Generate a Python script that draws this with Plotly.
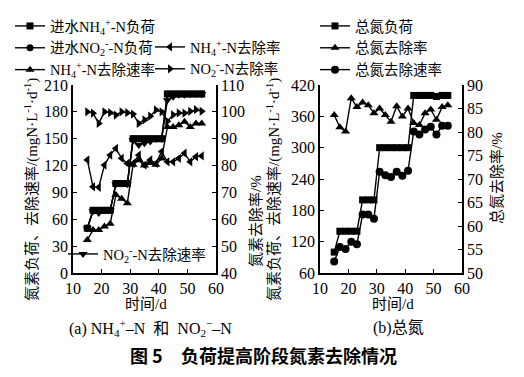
import plotly.graph_objects as go

W, H = 524, 377

# ---------------- data ----------------
days = [15, 17, 19, 21, 23, 25, 27, 29, 31, 33, 35, 37, 39, 41, 43, 45, 47, 49, 51, 53, 55]

# (a) NH4+-N and NO2--N
nh4_load = [50, 70, 70, 70, 70, 100, 100, 100, 150, 150, 150, 150, 150, 150, 200, 200, 200, 200, 200, 200, 200]
no2_load = [50, 70, 70, 70, 70, 100, 100, 100, 150, 150, 150, 150, 150, 150, 200, 200, 200, 200, 200, 200, 200]
nh4_pct = [82.1, 72.1, 71.9, 80.2, 83.9, 86.4, 82.7, 80.8, 80.8, 83.9, 80.2, 82.1, 80.8, 85.2, 81.4, 81.4, 82.7, 84.6, 81.4, 83.3, 83.6]
nh4_rate = [37, 48, 48, 52, 55, 87, 83, 78, 121, 126, 120, 123, 121, 128, 163, 163, 165, 169, 163, 167, 167]
no2_pct = [100.0, 99.5, 95.7, 100.0, 99.7, 98.8, 100.0, 99.7, 99.2, 95.7, 97.0, 98.4, 100.7, 100.0, 96.5, 98.9, 99.6, 99.5, 100.2, 100.8, 100.2]
no2_rate = [50, 69, 67, 70, 70, 99, 100, 99, 148, 143, 145, 147, 150, 150, 193, 197, 199, 199, 200, 200, 200]

# (b) total nitrogen
tn_load = [100, 140, 140, 140, 140, 200, 200, 200, 300, 300, 300, 300, 300, 300, 400, 400, 400, 400, 398, 400, 400]
tn_rate = [82, 110, 106, 120, 115, 172, 172, 164, 254, 247, 244, 254, 246, 256, 331, 325, 335, 340, 325, 342, 342]
tn_pct = [83.6, 81.0, 80.1, 87.2, 85.3, 86.3, 85.7, 84.0, 85.0, 83.6, 82.2, 85.5, 83.3, 85.0, 81.9, 81.5, 84.0, 84.8, 82.6, 85.3, 85.7]

x_ticks = [10, 20, 30, 40, 50, 60]
ya_ticks = [0, 30, 60, 90, 120, 150, 180, 210]
ya2_ticks = [40, 50, 60, 70, 80, 90, 100, 110]
yb_ticks = [60, 120, 180, 240, 300, 360, 420]
yb2_ticks = [50, 55, 60, 65, 70, 75, 80, 85, 90]

# ---------------- styling helpers ----------------
SERIF = "Liberation Serif, Noto Sans CJK SC, serif"
TXT = dict(family=SERIF, size=15, color="black")
LEGF = dict(family=SERIF, size=14.5, color="black")
LW = 1.4


def px_x(p):
    return p / W


def px_y(p):
    return 1 - p / H


def trace(x, y, name, symbol, size, xa, ya, legend, rank):
    return go.Scatter(
        x=x, y=y, name=name, mode="lines+markers",
        line=dict(color="black", width=LW),
        marker=dict(symbol=symbol, size=size, color="black"),
        xaxis=xa, yaxis=ya, legend=legend, showlegend=True, legendrank=rank,
    )


NH4 = "NH<sub>4</sub><sup>+</sup>-N"
NO2 = "NO<sub>2</sub><sup>-</sup>-N"

fig = go.Figure()
fig.add_trace(trace(days, nh4_load, "进水" + NH4 + "负荷", "square", 7, "x", "y", "legend", 1))
fig.add_trace(trace(days, no2_load, "进水" + NO2 + "负荷", "circle", 7, "x", "y", "legend", 2))
fig.add_trace(trace(days, nh4_pct, NH4 + "去除率", "triangle-left", 8, "x", "y2", "legend2", 1))
fig.add_trace(trace(days, nh4_rate, NH4 + "去除速率", "triangle-up", 8, "x", "y", "legend", 3))
fig.add_trace(trace(days, no2_pct, NO2 + "去除率", "triangle-right", 8, "x", "y2", "legend2", 2))
fig.add_trace(trace(days, no2_rate, NO2 + "去除速率", "triangle-down", 8, "x", "y", "legend3", 1))
fig.add_trace(trace(days, tn_load, "总氮负荷", "square", 7, "x2", "y3", "legend4", 1))
fig.add_trace(trace(days, tn_pct, "总氮去除率", "triangle-up", 8, "x2", "y4", "legend4", 2))
fig.add_trace(trace(days, tn_rate, "总氮去除速率", "circle", 8, "x2", "y3", "legend4", 3))

# domains
xa_dom = [px_x(73), px_x(216)]
xb_dom = [px_x(320), px_x(462)]
y_dom = [px_y(273), px_y(85)]

axis_common = dict(
    showline=True, linecolor="black", linewidth=1.5, ticks="inside", ticklen=4,
    tickwidth=1.3, tickcolor="black", showgrid=False, zeroline=False, automargin=False,
    tickfont=dict(family=SERIF, size=16, color="black"),
)

layout = dict(
    width=W, height=H, margin=dict(l=0, r=0, t=0, b=0, autoexpand=False),
    paper_bgcolor="white", plot_bgcolor="white",
    xaxis=dict(domain=xa_dom, range=[10, 60], tickvals=x_ticks, anchor="y", **axis_common),
    yaxis=dict(domain=y_dom, range=[0, 210], tickvals=ya_ticks, anchor="x", **axis_common),
    yaxis2=dict(range=[40, 110], tickvals=ya2_ticks, overlaying="y", side="right", anchor="x", **axis_common),
    xaxis2=dict(domain=xb_dom, range=[10, 60], tickvals=x_ticks, anchor="y3", **axis_common),
    yaxis3=dict(domain=y_dom, range=[60, 420], tickvals=yb_ticks, anchor="x2", **axis_common),
    yaxis4=dict(range=[50, 90], tickvals=yb2_ticks, overlaying="y3", side="right", anchor="x2", **axis_common),
)


def leg(xp, yp):
    return dict(x=px_x(xp), y=px_y(yp), xref="container", yref="container",
                xanchor="left", yanchor="middle", orientation="v",
                bgcolor="rgba(0,0,0,0)", borderwidth=0, font=LEGF,
                itemwidth=30, tracegroupgap=0, traceorder="normal")


layout["legend"] = leg(10, 48)     # rows at ~23, 46, 68
layout["legend2"] = leg(150, 58)   # rows at ~46, 68
layout["legend3"] = leg(63, 254)   # inside the left panel
layout["legend4"] = leg(315, 48)   # right panel rows

fig.update_layout(**layout)

ann = []
ytitle = "氮素负荷、去除速率/(mgN·L<sup>-1</sup>·d<sup>-1</sup>)"
ann.append(dict(text=ytitle, x=px_x(31), y=px_y(190), textangle=-90))
ann.append(dict(text="氮素去除率/%", x=px_x(256), y=px_y(221), textangle=-90))
ann.append(dict(text=ytitle, x=px_x(273), y=px_y(190), textangle=-90))
ann.append(dict(text="总氮去除率/%", x=px_x(497), y=px_y(178), textangle=-90))
ann.append(dict(text="时间/d", x=px_x(146), y=px_y(304)))
ann.append(dict(text="时间/d", x=px_x(393), y=px_y(304)))
for a in ann:
    a.update(xref="paper", yref="paper", showarrow=False, xanchor="center", yanchor="middle", font=TXT)
    fig.add_annotation(**a)

CAP = dict(family=SERIF, size=16, color="black")
fig.add_annotation(text="(a) NH<sub>4</sub><sup>+</sup>–N  和  NO<sub>2</sub><sup>−</sup>–N",
                   x=px_x(150), y=px_y(328), xref="paper", yref="paper", showarrow=False,
                   xanchor="center", yanchor="middle", font=CAP)
fig.add_annotation(text="(b)总氮", x=px_x(398), y=px_y(328), xref="paper", yref="paper",
                   showarrow=False, xanchor="center", yanchor="middle", font=CAP)

TF = dict(family="Noto Sans CJK SC, sans-serif", size=18, color="black")
fig.add_annotation(text="<b>图 5</b>", x=px_x(128), y=px_y(355), xref="paper", yref="paper",
                   showarrow=False, xanchor="left", yanchor="middle", font=TF)
fig.add_annotation(text="<b>负荷提高阶段氮素去除情况</b>", x=px_x(179), y=px_y(355), xref="paper", yref="paper",
                   showarrow=False, xanchor="left", yanchor="middle", font=TF)

fig.write_html("out.html", config={"displayModeBar": False},
               post_script="document.body.style.margin='0px';document.body.style.padding='0px';")
